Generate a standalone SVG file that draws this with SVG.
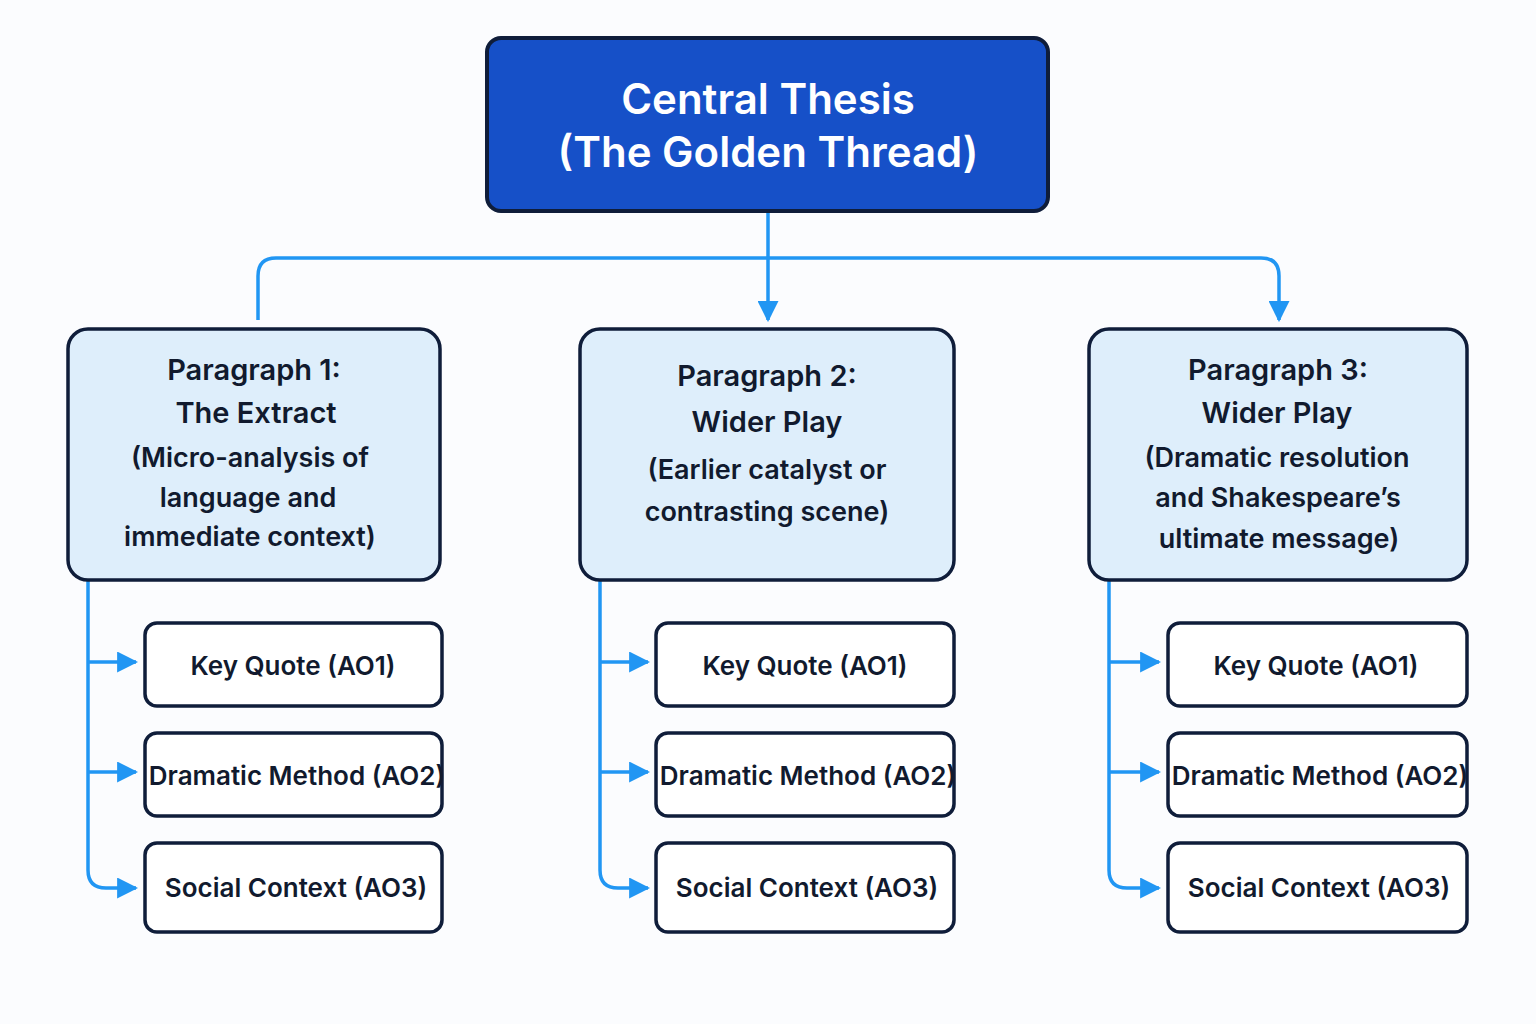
<svg xmlns="http://www.w3.org/2000/svg" width="1536" height="1024" viewBox="0 0 1536 1024">
<defs>
<style>
.t{font-family:Inter,"Open Sans","Liberation Sans",sans-serif;font-weight:600;fill:#111a2e;text-anchor:middle}
.para{fill:#deeefb;stroke:#0f1d3a;stroke-width:3.5}
.sub{fill:#ffffff;stroke:#0f1d3a;stroke-width:3.5}
.c{fill:none;stroke:#2196f3;stroke-width:3.5}
</style>
<marker id="ah" viewBox="0 0 10 10" refX="9" refY="5" markerWidth="6" markerHeight="6" markerUnits="strokeWidth" orient="auto"><path d="M0,0L10,5L0,10z" fill="#2196f3"/></marker>
</defs>
<rect width="1536" height="1024" fill="#fbfcfe"/>
<g id="connectors">
<path class="c" d="M768,211V320" marker-end="url(#ah)"/>
<path class="c" d="M258,320V276Q258,258 276,258H1261Q1279,258 1279,276V320" marker-end="url(#ah)"/>
<path class="c" d="M88,580V870Q88,888 106,888H136" marker-end="url(#ah)"/>
<path class="c" d="M88,662H136" marker-end="url(#ah)"/>
<path class="c" d="M88,772H136" marker-end="url(#ah)"/>
<path class="c" d="M600,580V870Q600,888 618,888H648" marker-end="url(#ah)"/>
<path class="c" d="M600,662H648" marker-end="url(#ah)"/>
<path class="c" d="M600,772H648" marker-end="url(#ah)"/>
<path class="c" d="M1109,580V870Q1109,888 1127,888H1159" marker-end="url(#ah)"/>
<path class="c" d="M1109,662H1159" marker-end="url(#ah)"/>
<path class="c" d="M1109,772H1159" marker-end="url(#ah)"/>
</g>
<g id="thesis">
<rect x="487" y="38" width="561" height="173" rx="14" fill="#1650c8" stroke="#0f1d3a" stroke-width="4"/>
<text class="t" x="768" y="114" font-size="42" style="fill:#fff">Central Thesis</text>
<text class="t" x="768" y="167" font-size="42" style="fill:#fff">(The Golden Thread)</text>
</g>
<g id="p1">
<rect class="para" x="68" y="329" width="372" height="251" rx="20"/>
<text class="t" x="254" y="380" font-size="29">Paragraph 1:</text>
<text class="t" x="256" y="423" font-size="29">The Extract</text>
<text class="t" x="250" y="467" font-size="27">(Micro-analysis of</text>
<text class="t" x="248" y="507" font-size="27">language and</text>
<text class="t" x="250" y="546" font-size="27">immediate context)</text>
</g>
<g id="p2">
<rect class="para" x="580" y="329" width="374" height="251" rx="20"/>
<text class="t" x="767" y="386" font-size="29">Paragraph 2:</text>
<text class="t" x="767" y="432" font-size="29">Wider Play</text>
<text class="t" x="767" y="479" font-size="27">(Earlier catalyst or</text>
<text class="t" x="767" y="521" font-size="27">contrasting scene)</text>
</g>
<g id="p3">
<rect class="para" x="1089" y="329" width="378" height="251" rx="20"/>
<text class="t" x="1278" y="380" font-size="29">Paragraph 3:</text>
<text class="t" x="1277" y="423" font-size="29">Wider Play</text>
<text class="t" x="1277" y="467" font-size="27">(Dramatic resolution</text>
<text class="t" x="1278" y="507" font-size="27">and Shakespeare’s</text>
<text class="t" x="1279" y="548" font-size="27">ultimate message)</text>
</g>
<g id="p1s">
<rect class="sub" x="145" y="623" width="297" height="83" rx="12"/><text class="t" x="293" y="675" font-size="26">Key Quote (AO1)</text>
<rect class="sub" x="145" y="733" width="297" height="83" rx="12"/><text class="t" x="297" y="785" font-size="26">Dramatic Method (AO2)</text>
<rect class="sub" x="145" y="843" width="297" height="89" rx="12"/><text class="t" x="296" y="897" font-size="26">Social Context (AO3)</text>
</g>
<g id="p2s">
<rect class="sub" x="656" y="623" width="298" height="83" rx="12"/><text class="t" x="805" y="675" font-size="26">Key Quote (AO1)</text>
<rect class="sub" x="656" y="733" width="298" height="83" rx="12"/><text class="t" x="808" y="785" font-size="26">Dramatic Method (AO2)</text>
<rect class="sub" x="656" y="843" width="298" height="89" rx="12"/><text class="t" x="807" y="897" font-size="26">Social Context (AO3)</text>
</g>
<g id="p3s">
<rect class="sub" x="1168" y="623" width="299" height="83" rx="12"/><text class="t" x="1316" y="675" font-size="26">Key Quote (AO1)</text>
<rect class="sub" x="1168" y="733" width="299" height="83" rx="12"/><text class="t" x="1320" y="785" font-size="26">Dramatic Method (AO2)</text>
<rect class="sub" x="1168" y="843" width="299" height="89" rx="12"/><text class="t" x="1319" y="897" font-size="26">Social Context (AO3)</text>
</g>
</svg>
